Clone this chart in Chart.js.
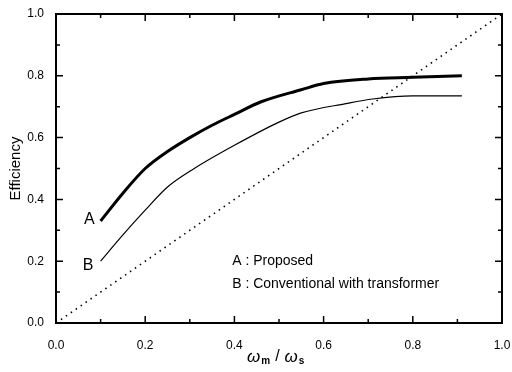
<!DOCTYPE html>
<html>
<head>
<meta charset="utf-8">
<script src="https://cdn.jsdelivr.net/npm/chart.js@4"></script>
<style>
  html, body { margin: 0; padding: 0; background: #fff; }
  #wrap { width: 512px; height: 372px; }
</style>
</head>
<body>
<div id="wrap"><canvas id="effChart"></canvas></div>
<script>
// values
const ratioA = [0.1, 0.15, 0.2, 0.25, 0.3, 0.35, 0.4, 0.46, 0.55, 0.6, 0.7, 0.8, 0.91];
const proposed = [0.33, 0.42, 0.50, 0.555, 0.60, 0.64, 0.675, 0.716, 0.755, 0.775, 0.79, 0.795, 0.80];
const ratioB = [0.1, 0.15, 0.2, 0.25, 0.31, 0.4, 0.5, 0.55, 0.65, 0.71, 0.8, 0.91];
const conventional = [0.20, 0.285, 0.365, 0.44, 0.50, 0.575, 0.65, 0.68, 0.71, 0.725, 0.735, 0.735];
const diagonalX = [0, 1];
const diagonalY = [0, 1];
const xTicks = [0, 0.2, 0.4, 0.6, 0.8, 1.0];
const yTicks = [0, 0.2, 0.4, 0.6, 0.8, 1.0];

const FONT = 'Liberation Sans, Arial, sans-serif';

function pts(xs, ys) {
  return xs.map((x, i) => ({ x: x, y: ys[i] }));
}

// frame ticks (inward, on all four sides) + text labels
const decor = {
  id: 'decor',
  afterDraw(chart) {
    const ctx = chart.ctx;
    const a = chart.chartArea;
    const xs = chart.scales.x, ys = chart.scales.y;
    ctx.save();
    ctx.strokeStyle = '#000';
    ctx.lineWidth = 1.5;
    for (let i = 0; i <= 10; i++) {
      const v = i / 10;
      const len = i % 2 === 0 ? 7 : 4;
      const px = xs.getPixelForValue(v);
      const py = ys.getPixelForValue(v);
      ctx.beginPath();
      ctx.moveTo(px, a.bottom); ctx.lineTo(px, a.bottom - len);
      ctx.moveTo(px, a.top); ctx.lineTo(px, a.top + len);
      ctx.moveTo(a.left, py); ctx.lineTo(a.left + len, py);
      ctx.moveTo(a.right, py); ctx.lineTo(a.right - len, py);
      ctx.stroke();
    }
    ctx.lineWidth = 2;
    ctx.strokeRect(a.left, a.top, a.right - a.left, a.bottom - a.top);

    ctx.fillStyle = '#000';
    ctx.font = '16px ' + FONT;
    ctx.textAlign = 'center';
    ctx.textBaseline = 'middle';
    ctx.fillText('A', xs.getPixelForValue(0.075), ys.getPixelForValue(0.335));
    ctx.fillText('B', xs.getPixelForValue(0.072), ys.getPixelForValue(0.185));

    ctx.textAlign = 'left';
    ctx.font = '14px ' + FONT;
    ctx.fillText('A : Proposed', xs.getPixelForValue(0.395), ys.getPixelForValue(0.2));
    ctx.fillText('B : Conventional with transformer', xs.getPixelForValue(0.395), ys.getPixelForValue(0.125));

    // y title
    ctx.save();
    ctx.translate(16, (a.top + a.bottom) / 2);
    ctx.rotate(-Math.PI / 2);
    ctx.textAlign = 'center';
    ctx.font = '15px ' + FONT;
    ctx.fillText('Efficiency', 0, 0);
    ctx.restore();

    // x title: ωm / ωs
    const cx = xs.getPixelForValue(0.5) - 32, cy = 357;
    ctx.textAlign = 'left';
    ctx.font = 'italic 17px ' + FONT;
    let x = cx;
    ctx.fillText('ω', x, cy); x += ctx.measureText('ω').width + 1;
    ctx.font = 'bold 10px ' + FONT;
    ctx.fillText('m', x, cy + 4); x += ctx.measureText('m').width + 5;
    ctx.font = '16px ' + FONT;
    ctx.fillText('/', x, cy); x += ctx.measureText('/').width + 5;
    ctx.font = 'italic 17px ' + FONT;
    ctx.fillText('ω', x, cy); x += ctx.measureText('ω').width + 1;
    ctx.font = 'bold 10px ' + FONT;
    ctx.fillText('s', x, cy + 4);
    ctx.restore();
  }
};

new Chart(document.getElementById('effChart'), {
  type: 'line',
  data: {
    datasets: [
      { data: pts(ratioA, proposed), borderColor: '#000', borderWidth: 3, pointRadius: 0, cubicInterpolationMode: 'monotone', fill: false },
      { data: pts(ratioB, conventional), borderColor: '#000', borderWidth: 1.2, pointRadius: 0, cubicInterpolationMode: 'monotone', fill: false },
      { data: pts(diagonalX, diagonalY), borderColor: '#000', borderWidth: 1.6, borderDash: [1.5, 4.5], pointRadius: 0, fill: false }
    ]
  },
  plugins: [decor],
  options: {
    responsive: true,
    maintainAspectRatio: false,
    animation: false,
    layout: { padding: { top: 14, right: 10, left: 0, bottom: 0 } },
    plugins: { legend: { display: false }, tooltip: { enabled: false } },
    scales: {
      x: {
        type: 'linear', min: 0, max: 1,
        afterBuildTicks: s => { s.ticks = xTicks.map(v => ({ value: v })); },
        afterFit: s => { s.height = 49; s.paddingRight = 0; s.paddingLeft = 0; },
        grid: { display: false },
        border: { display: false },
        ticks: { color: '#000', font: { family: FONT, size: 12 }, padding: 7, maxRotation: 0,
                 callback: v => v.toFixed(1) }
      },
      y: {
        type: 'linear', min: 0, max: 1,
        afterBuildTicks: s => { s.ticks = yTicks.map(v => ({ value: v })); },
        afterFit: s => { s.width = 56; s.paddingTop = 0; s.paddingBottom = 0; },
        grid: { display: false },
        border: { display: false },
        ticks: { color: '#000', font: { family: FONT, size: 12 }, padding: 4,
                 callback: v => v.toFixed(1) }
      }
    }
  }
});
</script>
</body>
</html>
